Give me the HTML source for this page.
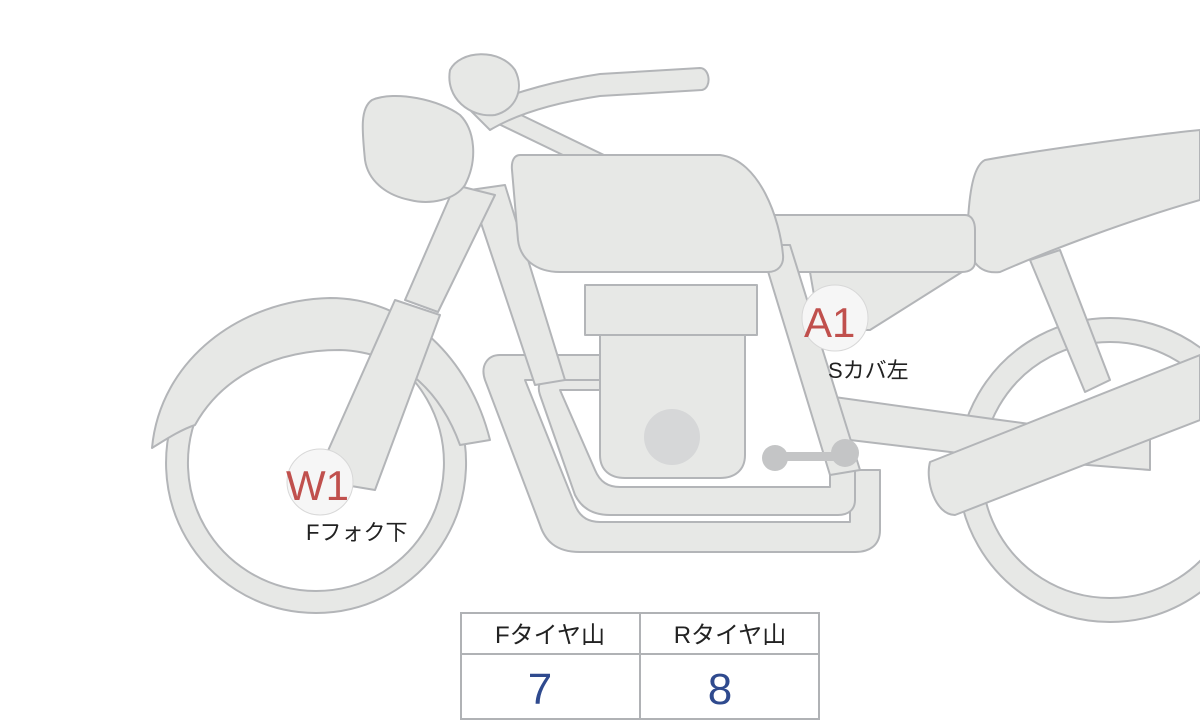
<!DOCTYPE html>
<html><head><meta charset="utf-8"><style>
html,body{margin:0;padding:0;background:#fff;}
svg{display:block}
text{font-family:"Liberation Sans","Noto Sans CJK JP",sans-serif;}
</style></head><body>
<svg width="1200" height="720" viewBox="0 0 1200 720" xmlns="http://www.w3.org/2000/svg">
<g fill="#e7e8e6" stroke="#b3b5b8" stroke-width="2" stroke-linejoin="round">
<path fill-rule="evenodd" d="M1110,318 a152,152 0 1,0 0.1,0 Z M1110,342 a128,128 0 1,1 -0.1,0 Z"/>
<path fill-rule="evenodd" d="M316,313 a150,150 0 1,0 0.1,0 Z M316,335 a128,128 0 1,1 -0.1,0 Z"/>
<path d="M152,448 C160,360 240,300 330,298 C410,298 470,360 490,440 L460,445 C440,390 400,352 340,350 C270,350 220,380 195,425 C180,430 165,440 152,448 Z"/>
<path d="M985,160 C1040,150 1150,135 1200,130 L1200,200 C1130,220 1050,250 1000,272 C975,275 965,255 968,220 C970,185 975,165 985,160 Z"/>
<path d="M1030,260 L1060,250 L1110,380 L1085,392 Z"/>
<path d="M820,395 L1000,420 L1150,440 L1150,470 L1000,458 L850,440 Z"/>
<path d="M930,462 L1200,355 L1200,420 L955,515 C935,515 925,480 930,462 Z"/>
<path d="M500,355 L610,355 L610,380 L525,380 L575,505 C580,518 590,522 600,522 L850,522 L850,470 L880,470 L880,530 C880,545 870,552 855,552 L580,552 C555,552 545,540 540,525 L485,380 C480,365 488,355 500,355 Z"/>
<path d="M545,380 L610,380 L610,390 L560,390 L595,470 C600,482 608,487 620,487 L830,487 L830,470 L855,470 L855,500 C855,510 848,515 838,515 L610,515 C590,515 580,505 575,495 L540,395 C537,386 540,380 545,380 Z"/>
<path d="M470,190 L505,185 L565,380 L535,385 Z"/>
<path d="M480,115 L490,100 L780,240 L770,255 Z"/>
<path d="M775,215 L965,215 C972,215 975,222 975,230 L975,262 C975,268 970,272 962,272 L785,272 C775,272 770,265 770,255 L770,225 C770,218 772,215 775,215 Z"/>
<path d="M810,272 L962,272 L870,330 L820,330 Z"/>
<path d="M760,245 L790,245 L860,470 L830,475 Z"/>
<path d="M600,330 L745,330 L745,455 C745,470 735,478 720,478 L625,478 C610,478 600,470 600,455 Z"/>
<rect x="585" y="285" width="172" height="50"/>
<path d="M520,155 L720,155 C760,160 780,220 783,255 C784,265 778,272 768,272 L560,272 C535,272 520,258 518,240 L512,170 C511,160 515,155 520,155 Z"/>
<path d="M395,300 L440,315 L375,490 L315,480 Z"/>
<path d="M405,300 L455,185 L495,195 L438,312 Z"/>
<path d="M470,110 C520,90 560,80 600,74 L700,68 C710,68 712,88 702,90 L600,96 C560,102 520,112 490,130 Z"/>
<path d="M372,100 C395,90 440,100 460,115 C475,130 478,160 465,185 C455,200 430,205 410,200 C385,195 368,180 365,160 C362,130 360,108 372,100 Z"/>
<path d="M450,70 C460,50 500,48 515,70 C525,90 515,110 495,115 C470,118 445,98 450,70 Z"/>
<g fill="#c4c5c6" stroke="none">
<circle cx="775" cy="458" r="13"/><circle cx="845" cy="453" r="14"/>
<rect x="775" y="452" width="70" height="9"/>
</g>
<circle cx="672" cy="437" r="28" fill="#d6d7d8" stroke="none"/>
<circle cx="320" cy="482" r="33" fill="#f6f6f6" stroke="#d8d8d8" stroke-width="1"/>
<circle cx="835" cy="318" r="33" fill="#f6f6f6" stroke="#d8d8d8" stroke-width="1"/>
</g>
<text x="286" y="500" font-size="42" fill="#c0504d">W1</text>
<text x="804" y="337" font-size="42" fill="#c0504d">A1</text>
<text x="306" y="540" font-size="22" fill="#222">Fフォク下</text>
<text x="828" y="378" font-size="22" fill="#222">Sカバ左</text>
<g fill="#fff" stroke="#b0b2b5" stroke-width="2">
<rect x="461" y="613" width="358" height="106"/>
<line x1="461" y1="654" x2="819" y2="654"/>
<line x1="640" y1="613" x2="640" y2="719"/>
</g>
<text x="550" y="643" font-size="24" fill="#222" text-anchor="middle">Fタイヤ山</text>
<text x="730" y="643" font-size="24" fill="#222" text-anchor="middle">Rタイヤ山</text>
<text x="540" y="704" font-size="44" fill="#2f4a8e" text-anchor="middle">7</text>
<text x="720" y="704" font-size="44" fill="#2f4a8e" text-anchor="middle">8</text>
</svg>
</body></html>
